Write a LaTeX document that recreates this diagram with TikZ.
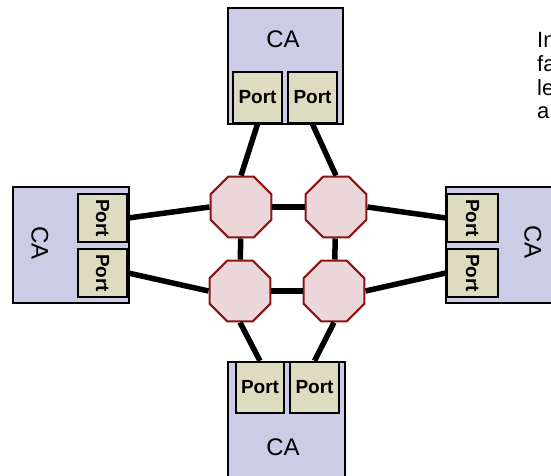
\documentclass[tikz,border=0pt]{standalone}
\usepackage{fontspec}
\setmainfont{Liberation Sans}
\usetikzlibrary{shapes.geometric}
\definecolor{cabox}{HTML}{CCCCE6}
\definecolor{portfill}{HTML}{DEDCC0}
\definecolor{octfill}{HTML}{EBD7D9}
\definecolor{octline}{HTML}{8C1414}
\tikzset{
  cabox/.style={draw=black, line width=2.6pt, fill=cabox},
  portbox/.style={draw=black, line width=2.3pt, fill=portfill, inner sep=0pt,
    font=\fontsize{19}{22}\selectfont\bfseries},
  catext/.style={inner sep=0pt, font=\fontsize{24}{28}\selectfont},
  switch/.style={regular polygon, regular polygon sides=8, draw=octline, line width=2pt,
    fill=octfill, inner sep=0pt, minimum size=66pt},
  link/.style={line width=5.5pt, black},
  sidetext/.style={anchor=base west, inner sep=0pt, font=\fontsize{22}{26}\selectfont}
}
\begin{document}
\begin{tikzpicture}[x=1pt, y=-1pt]
\clip (0,0) rectangle (551,475);
\fill[white] (0,0) rectangle (551,475);
% top CA
\draw[cabox] (228,8) rectangle (343,124);
\node[catext] (tca) at (283,39) {CA};
\node[portbox, minimum width=49pt, minimum height=51pt] (tp1) at (257.5,97.5) {Port};
\node[portbox, minimum width=49pt, minimum height=51pt] (tp2) at (312.5,97.5) {Port};
% left CA
\draw[cabox] (13,187) rectangle (129,303);
\node[catext, rotate=-90] (lca) at (40,243) {CA};
\node[portbox, minimum width=49pt, minimum height=48pt] (lp1) at (102.5,218) {\rotatebox{-90}{Port}};
\node[portbox, minimum width=49pt, minimum height=48pt] (lp2) at (102.5,273) {\rotatebox{-90}{Port}};
% right CA
\draw[cabox] (446,187) rectangle (562,303);
\node[catext, rotate=-90] (rca) at (533,242) {CA};
\node[portbox, minimum width=51pt, minimum height=48pt] (rp1) at (472.5,218) {\rotatebox{-90}{Port}};
\node[portbox, minimum width=51pt, minimum height=48pt] (rp2) at (472.5,273) {\rotatebox{-90}{Port}};
% bottom CA
\draw[cabox] (228,362) rectangle (345,482);
\node[catext] (bca) at (283,447) {CA};
\node[portbox, minimum width=48pt, minimum height=51pt] (bp1) at (260,387.5) {Port};
\node[portbox, minimum width=49pt, minimum height=51pt] (bp2) at (314.5,387.5) {Port};
% switches
\node[switch] (ul) at (241,207) {};
\node[switch] (ur) at (336,207) {};
\node[switch] (ll) at (240,291) {};
\node[switch] (lr) at (334,291) {};
% links
\draw[link] (tp1.south) -- (ul.north);
\draw[link] (tp2.south) -- (ur.north);
\draw[link] (lp1.east) -- (ul.west);
\draw[link] (lp2.east) -- (ll.west);
\draw[link] (rp1.west) -- (ur.east);
\draw[link] (rp2.west) -- (lr.east);
\draw[link] (bp1.north) -- (ll.south);
\draw[link] (bp2.north) -- (lr.south);
\draw[link] (ul) -- (ur);
\draw[link] (ll) -- (lr);
\draw[link] (ul) -- (ll);
\draw[link] (ur) -- (lr);
% side text (cut off at the right edge, as in the reference)
\node[sidetext] (t1) at (537,47) {In};
\node[sidetext] (t2) at (537,71) {fa};
\node[sidetext] (t3) at (537,95) {le};
\node[sidetext] (t4) at (537,118) {a};
\end{tikzpicture}
\end{document}
